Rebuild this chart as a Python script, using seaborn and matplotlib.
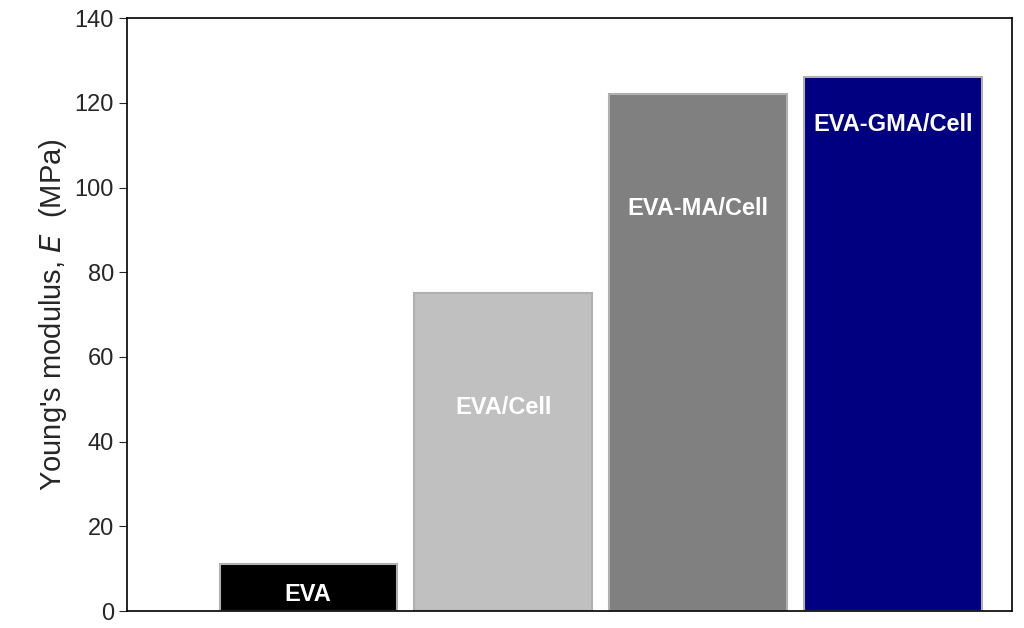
import matplotlib
matplotlib.use("Agg")
import matplotlib.pyplot as plt
import seaborn as sns
import pandas as pd

# values
samples = ["EVA", "EVA/Cell", "EVA-MA/Cell", "EVA-GMA/Cell"]
modulus = [11, 75, 122, 126]
bar_colors = ["#000000", "#c0c0c0", "#808080", "#000080"]
label_y = [4, 48, 95, 115]

sns.set_style("white")
plt.rcParams["font.family"] = ["Liberation Sans", "DejaVu Sans"]

df = pd.DataFrame({"sample": samples, "E": modulus})

fig = plt.figure(figsize=(10.24, 6.28), dpi=100)
ax = fig.add_axes([0.124, 0.027, 0.864, 0.944])

sns.barplot(data=df, x="sample", y="E", hue="sample", palette=bar_colors,
            width=0.91, edgecolor="#b0b0b0", linewidth=1.5, legend=False,
            saturation=1, ax=ax)

for i, (name, y) in enumerate(zip(samples, label_y)):
    ax.text(i, y, name, color="white", fontsize=17, fontweight="bold",
            ha="center", va="center")

ax.set_xlim(-0.93, 3.61)
ax.set_ylim(0, 140)
ax.set_yticks(range(0, 141, 20))
ax.tick_params(axis="y", labelsize=17, direction="out", length=6, left=True)
ax.set_xticks([])
ax.set_xlabel("")
ax.set_ylabel("Young's modulus, $\\it{E}$  (MPa)", fontsize=21)
for s in ax.spines.values():
    s.set_color("black")
    s.set_linewidth(1.2)

fig.savefig("out.png", dpi=100)
